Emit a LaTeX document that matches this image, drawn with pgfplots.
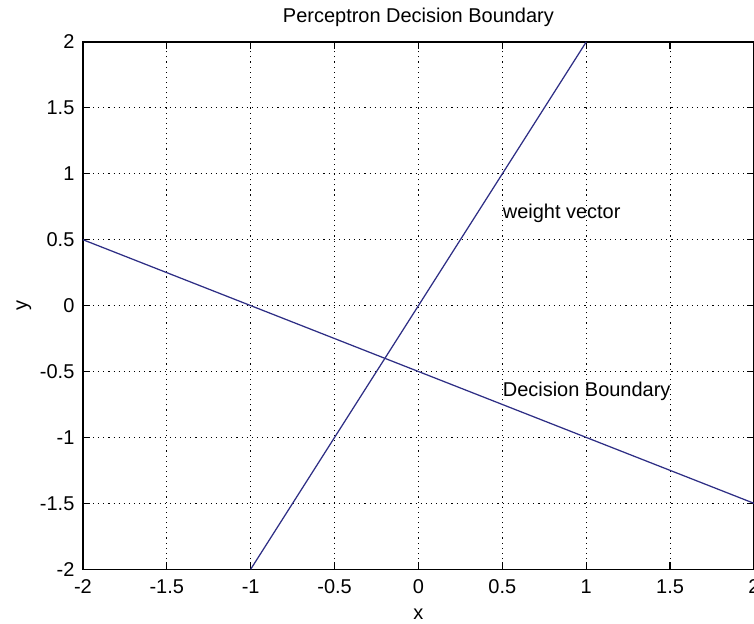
\documentclass[border=0pt]{standalone}
\usepackage{fontspec}
\setmainfont{Liberation Sans}
\usepackage{pgfplots}
\pgfplotsset{compat=1.18}
\definecolor{lineblue}{rgb}{0.18,0.18,0.52}
\begin{document}
\begin{tikzpicture}
\begin{axis}[
  name=ax,
  scale only axis,
  width=268.8pt, height=211.2pt,
  xmin=-2, xmax=2, ymin=-2, ymax=2,
  xtick={-2,-1.5,...,2}, ytick={-2,-1.5,...,2},
  /pgf/number format/assume math mode=true,
  font=\fontsize{8}{9.5}\selectfont,
  tick label style={font=\fontsize{8}{9.5}\selectfont},
  yticklabel style={anchor=east, inner sep=0pt, xshift=-3.2pt},
  xticklabel style={anchor=north, inner sep=0pt, yshift=-4pt},
  tick align=inside,
  major tick length=3pt,
  tick style={black, line width=0.5pt},
  axis line style={black, line width=0.6pt},
  grid=major,
  major grid style={black, line width=0.45pt, dash pattern=on 0.45pt off 1.6pt},
  xlabel={x},
  xlabel style={at={(axis description cs:0.5,-0.085)}, anchor=center, inner sep=0pt},
  ylabel={y},
  ylabel style={at={(axis description cs:-0.088,0.5)}, anchor=center, inner sep=0pt},
  clip=false,
]
\addplot[lineblue, line width=0.5pt] coordinates {(-2,0.5) (2,-1.5)};
\addplot[lineblue, line width=0.5pt] coordinates {(-1,-2) (1,2)};
\node[anchor=west, inner sep=0pt] at (axis cs:0.5,0.7) {weight vector};
\node[anchor=west, inner sep=0pt] at (axis cs:0.5,-0.65) {Decision Boundary};
\node[anchor=center, inner sep=0pt] at (rel axis cs:0.5,1.047) {Perceptron Decision Boundary};
\end{axis}
\pgfresetboundingbox
\path[use as bounding box] ([xshift=-33.2pt,yshift=-21.6pt]ax.south west) rectangle ([yshift=16.8pt]ax.north east);
\end{tikzpicture}
\end{document}
